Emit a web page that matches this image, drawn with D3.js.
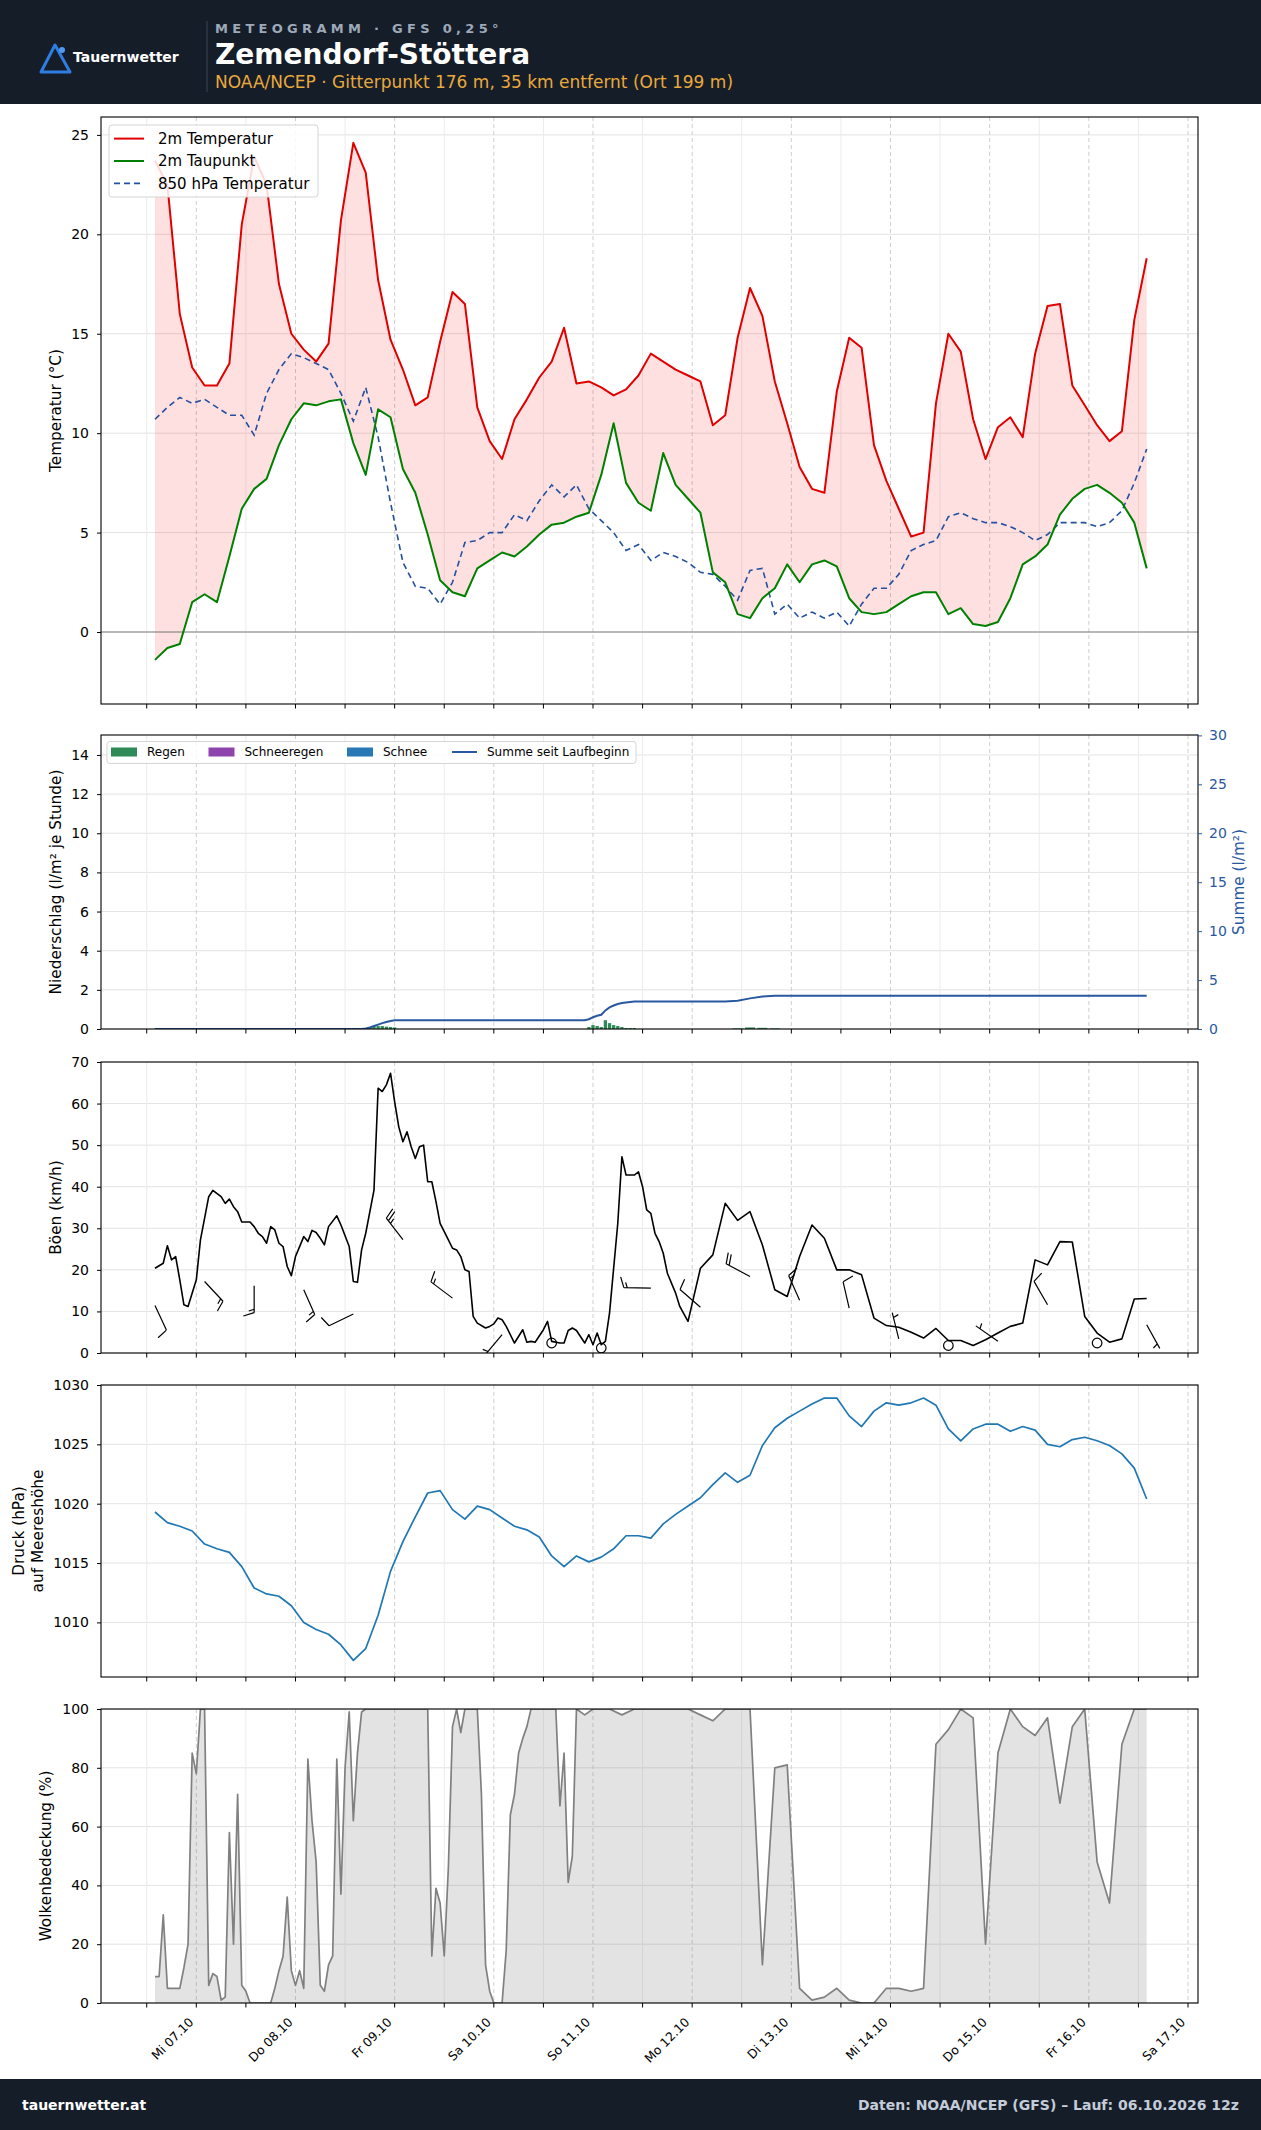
<!DOCTYPE html>
<html lang="de">
<head>
<meta charset="utf-8">
<title>Meteogramm Zemendorf-Stöttera</title>
<script src="https://cdn.jsdelivr.net/npm/d3@7/dist/d3.min.js"></script>
<style>
  body{margin:0;background:#fff;}
  svg{display:block;font-family:"DejaVu Sans",sans-serif;}
</style>
</head>
<body>
<svg id="chart" width="1261" height="2130"></svg>
<script>
// GFS Lauf 06.10.2026 12z, erster Schritt 14:00 Ortszeit
const runStart=Date.UTC(2026,9,6,14);
const stepHours=d3.range(0,241,3);

const dayLabels=["Mi 07.10","Do 08.10","Fr 09.10","Sa 10.10","So 11.10","Mo 12.10","Di 13.10","Mi 14.10","Do 15.10","Fr 16.10","Sa 17.10"];

const temp2m=[23.7,22.5,16.0,13.3,12.4,12.4,13.5,20.5,23.9,22.5,
  17.5,15.0,14.2,13.6,14.5,20.7,24.6,23.1,17.7,14.7,
  13.2,11.4,11.8,14.6,17.1,16.5,11.3,9.6,8.7,10.7,
  11.7,12.8,13.6,15.3,12.5,12.6,12.3,11.9,12.2,12.9,
  14.0,13.6,13.2,12.9,12.6,10.4,10.9,14.8,17.3,15.9,
  12.6,10.5,8.3,7.2,7.0,12.1,14.8,14.3,9.4,7.6,
  6.2,4.8,5.0,11.5,15.0,14.1,10.7,8.7,10.3,10.8,
  9.8,14.0,16.4,16.5,12.4,11.4,10.4,9.6,10.1,15.7,
  18.8];
const dew2m=[-1.4,-0.8,-0.6,1.5,1.9,1.5,3.8,6.2,7.2,7.7,
  9.4,10.7,11.5,11.4,11.6,11.7,9.5,7.9,11.2,10.8,
  8.2,7.0,4.9,2.6,2.0,1.8,3.2,3.6,4.0,3.8,
  4.3,4.9,5.4,5.5,5.8,6.0,7.9,10.5,7.5,6.5,
  6.1,9.0,7.4,6.7,6.0,3.0,2.5,0.9,0.7,1.7,
  2.2,3.4,2.5,3.4,3.6,3.3,1.7,1.0,0.9,1.0,
  1.4,1.8,2.0,2.0,0.9,1.2,0.4,0.3,0.5,1.7,
  3.4,3.8,4.4,5.9,6.7,7.2,7.4,7.0,6.5,5.5,
  3.2];
const temp850=[10.7,11.3,11.8,11.5,11.7,11.3,10.9,10.9,9.9,12.0,
  13.2,14.0,13.8,13.5,13.2,12.0,10.6,12.3,9.8,6.5,
  3.5,2.3,2.2,1.4,2.5,4.5,4.6,5.0,5.0,5.9,
  5.6,6.6,7.4,6.8,7.4,6.2,5.6,5.0,4.1,4.4,
  3.6,4.0,3.8,3.5,3.0,2.9,2.3,1.6,3.1,3.2,
  0.9,1.4,0.7,1.0,0.7,1.0,0.3,1.4,2.2,2.2,
  2.9,4.1,4.4,4.6,5.8,6.0,5.7,5.5,5.5,5.3,
  5.0,4.6,4.9,5.5,5.5,5.5,5.3,5.5,6.1,7.5,
  9.2];

// Niederschlag: Stunde nach Laufbeginn und Rate (l/m² je Stunde)
const rainHours=[51,52,53,54,55,56,57,58,105,106,107,108,109,110,111,112,113,114,115,116,141,144,147,150];
const rainRate=[0.05,0.1,0.15,0.15,0.15,0.12,0.1,0.08,0.1,0.2,0.15,0.1,0.45,0.3,0.2,0.15,0.1,0.05,0.05,0.05,0.03,0.08,0.06,0.03];

// Boeen: stuendlich bis ~129 h, danach 3-stuendlich
const gustHours=[0,2,3,4,5,6,7,8,10,11,13,14,16,17,18,19,20,21,23,24,
  25,26,27,28,29,30,31,32,33,34,35,36,37,38,39,40,41,42,44,45,
  47,48,49,50,51,53,54,55,56,57,58,59,60,61,62,63,64,65,66,67,
  68,69,71,72,73,74,75,76,77,78,80,81,82,83,84,85,87,89,90,91,
  92,94,95,96,98,99,100,101,102,104,105,106,107,108,109,110,112,113,114,116,
  117,118,119,120,121,122,123,124,126,127,129,132,135,138,141,144,147,150,153,156,
  159,162,165,168,171,174,177,180,183,186,189,192,195,198,201,204,207,210,213,216,
  219,222,225,228,231,234,237,240];
const gustVals=[20.4,21.6,25.8,22.4,23.2,17.6,11.6,11.2,17.6,27.2,37.6,39.1,37.6,36,37,35.2,34,31.5,31.5,30.4,
  28.8,28,26.4,30.4,29.6,26.4,25.6,20.8,18.6,23.2,25.6,28,26.8,29.5,29,27.6,26,30.4,33,30.8,
  25.6,17.2,17,24.8,28.8,39.2,63.7,62.9,64.5,67.3,60.4,54.4,50.8,53.2,49.6,46.8,49.6,50,41.2,41.2,
  36.4,31.2,27.2,25.2,24.8,23.2,20,19.6,8.8,7.2,6,6.4,7,8.4,8,6.4,2.4,5.6,2.6,2.8,
  2.6,5.6,7.6,2.8,2.4,2.4,5.4,6,5.4,2.4,4.4,2,4.8,2,2.8,9.6,31.2,47.2,42.8,42.8,
  43.6,40,34.4,33.6,28.8,26.8,24,19.2,14.4,11.2,7.6,20.4,23.6,36,31.9,34,26,15.2,13.6,23.2,
  30.8,27.6,20,20,18.8,8.4,6.6,6.2,5,3.6,5.9,3,3,1.8,3.2,4.8,6.4,7.2,22.4,21.2,
  26.8,26.7,8.8,4.8,2.6,3.4,13,13.1];

const windHours=[0,12,24,36,48,60,72,84,96,108,120,132,144,156,168,180,192,204,216,228,240];
const windSpeed=[11.4,17.2,16.2,15.2,9.4,27.3,13.2,4.4,2.4,1.2,15.6,11.0,18.4,12.7,10.8,3.4,1.8,2.8,11.6,2.4,6.8];
const windDir=[155,137,180,156,244,322,307,220,0,0,271,311,298,336,347,346,0,305,330,0,151];

const pressure=[1019.3,1018.4,1018.1,1017.7,1016.6,1016.2,1015.9,1014.7,1012.9,1012.4,
  1012.2,1011.4,1010.0,1009.4,1009.0,1008.1,1006.8,1007.8,1010.6,1014.3,
  1016.8,1018.9,1020.9,1021.1,1019.5,1018.7,1019.8,1019.5,1018.8,1018.1,
  1017.8,1017.2,1015.6,1014.7,1015.6,1015.1,1015.5,1016.2,1017.3,1017.3,
  1017.1,1018.3,1019.1,1019.8,1020.5,1021.6,1022.6,1021.8,1022.4,1024.9,
  1026.4,1027.2,1027.8,1028.4,1028.9,1028.9,1027.4,1026.5,1027.8,1028.5,
  1028.3,1028.5,1028.9,1028.3,1026.3,1025.3,1026.3,1026.7,1026.7,1026.1,
  1026.5,1026.2,1025.0,1024.8,1025.4,1025.6,1025.3,1024.9,1024.2,1023.0,
  1020.4];

// Bewoelkung: stuendlich bis 120 h, danach 3-stuendlich
const cloudHours=[0,1,2,3,6,7,8,9,10,11,12,13,14,15,16,17,18,19,20,21,
  22,23,28,29,30,31,32,33,34,35,36,37,38,39,40,41,42,43,44,45,
  46,47,48,49,50,51,66,67,68,69,70,71,72,73,74,75,78,79,80,81,
  82,84,85,86,87,88,89,90,91,97,98,99,100,101,102,104,106,110,113,116,
  120,123,126,129,132,135,138,141,144,147,150,153,156,159,162,165,168,171,174,177,
  180,183,186,189,192,195,198,201,204,207,210,213,216,219,222,225,228,231,234,237,240];
const cloudVals=[9,9,30,5,5,12,20,85,78,100,100,6,10,9,1,2,58,20,71,6,
  4,0,0,5,11,16,36,11,6,11,5,83,62,48,6,4,13,16,83,37,
  80,99,62,85,99,100,100,16,39,34,16,46,94,100,92,100,100,71,13,4,
  0,0,18,64,71,85,90,94,100,100,67,85,41,50,100,98,100,100,98,100,
  100,100,100,100,98,96,100,100,100,13,80,81,5,1,2,5,1,0,0,5,
  5,4,5,88,93,100,97,20,85,100,94,91,97,68,94,100,48,34,88,100,100];

const W=1261,H=2130,xL=101,xR=1198;
const svg=d3.select("#chart");
const hToDate=h=>new Date(runStart+h*36e5);
const times=stepHours.map(hToDate);

const x=d3.scaleUtc()
  .domain([new Date(Date.UTC(2026,9,6,0,56)),new Date(Date.UTC(2026,9,17,2,25))])
  .range([xL,xR]);
const gridTimes=d3.utcHour.every(12).range(x.domain()[0],x.domain()[1]);
const dayTimes=gridTimes.filter(d=>d.getUTCHours()===0);

svg.append("rect").attr("width",W).attr("height",H).attr("fill","#fff");

// ---- Kopf ----
svg.append("rect").attr("width",W).attr("height",104).attr("fill","#151d29");
svg.append("path").attr("d","M55,45L41,72L70,72Z")
  .attr("fill","none").attr("stroke","#2f7de1").attr("stroke-width",3).attr("stroke-linejoin","round");
svg.append("circle").attr("cx",62).attr("cy",50).attr("r",3).attr("fill","#4d9cf2");
svg.append("text").attr("x",73).attr("y",62).attr("fill","#fff")
  .attr("font-size",14).attr("font-weight","bold").text("Tauernwetter");
svg.append("line").attr("x1",207).attr("x2",207).attr("y1",21).attr("y2",92)
  .attr("stroke","#3b4555");
svg.append("text").attr("x",215).attr("y",33).attr("fill","#9da9b9")
  .attr("font-size",13).attr("font-weight","bold").attr("letter-spacing",4.3)
  .text("METEOGRAMM · GFS 0,25°");
svg.append("text").attr("x",215).attr("y",64).attr("fill","#fff")
  .attr("font-size",28).attr("font-weight","bold").text("Zemendorf-Stöttera");
svg.append("text").attr("x",215).attr("y",87.5).attr("fill","#e9a93c")
  .attr("font-size",17).text("NOAA/NCEP · Gitterpunkt 176 m, 35 km entfernt (Ort 199 m)");

// ---- Fuss ----
svg.append("rect").attr("y",2079).attr("width",W).attr("height",51).attr("fill","#151d29");
svg.append("text").attr("x",22).attr("y",2110).attr("fill","#fff")
  .attr("font-size",14).attr("font-weight","bold").text("tauernwetter.at");
svg.append("text").attr("x",1239).attr("y",2110).attr("fill","#c3ccd8").attr("text-anchor","end")
  .attr("font-size",14).attr("font-weight","bold").text("Daten: NOAA/NCEP (GFS) – Lauf: 06.10.2026 12z");

// ---- Panels ----
function makePanel(p){
  const y=d3.scaleLinear().domain(p.domain).range([p.bottom,p.top]);
  const g=svg.append("g");
  svg.append("clipPath").attr("id","clip"+p.id).append("rect")
    .attr("x",xL).attr("y",p.top).attr("width",xR-xL).attr("height",p.bottom-p.top);
  g.selectAll(".hg").data(p.ticks).join("line")
    .attr("x1",xL).attr("x2",xR).attr("y1",d=>y(d)).attr("y2",d=>y(d))
    .attr("stroke","#e3e3e3").attr("stroke-width",1);
  g.selectAll(".vg").data(gridTimes).join("line")
    .attr("x1",d=>x(d)).attr("x2",d=>x(d)).attr("y1",p.top).attr("y2",p.bottom)
    .attr("stroke",d=>d.getUTCHours()===0?"#cfcfcf":"#ececec")
    .attr("stroke-dasharray",d=>d.getUTCHours()===0?"4,3":null);
  const plot=g.append("g").attr("clip-path",`url(#clip${p.id})`);
  return {y,g,plot,p};
}
function finishPanel(pan,label){
  const {y,g,p}=pan;
  g.append("rect").attr("x",xL).attr("y",p.top).attr("width",xR-xL).attr("height",p.bottom-p.top)
    .attr("fill","none").attr("stroke","#000").attr("stroke-width",1.1);
  g.selectAll(".xt").data(gridTimes).join("line")
    .attr("x1",d=>x(d)).attr("x2",d=>x(d)).attr("y1",p.bottom).attr("y2",p.bottom+4.5)
    .attr("stroke","#000");
  const ax=g.append("g").attr("transform",`translate(${xL},0)`)
    .call(d3.axisLeft(y).tickValues(p.ticks).tickSize(4).tickPadding(8).tickFormat(d3.format("d")));
  ax.select(".domain").remove();
  ax.attr("font-size",14).attr("font-family","DejaVu Sans");
  ax.selectAll("text").attr("fill","#000");
  label.forEach(l=>{
    g.append("text").attr("transform",`translate(${l.x},${(p.top+p.bottom)/2}) rotate(-90)`)
      .attr("text-anchor","middle").attr("dy","0.35em").attr("font-size",15.3).attr("fill","#000")
      .text(l.t);
  });
}

// 1) Temperatur
const p1=makePanel({id:1,top:117,bottom:704,domain:[-3.62,25.9],ticks:[0,5,10,15,20,25]});
p1.plot.append("path").datum(stepHours.map((h,i)=>i))
  .attr("d",d3.area().x(i=>x(times[i])).y0(i=>p1.y(dew2m[i])).y1(i=>p1.y(temp2m[i])))
  .attr("fill","#ff0000").attr("fill-opacity",0.12);
p1.plot.append("line").attr("x1",xL).attr("x2",xR).attr("y1",p1.y(0)).attr("y2",p1.y(0))
  .attr("stroke","#808080").attr("stroke-width",1.2);
const line1=arr=>d3.line().x((d,i)=>x(times[i])).y(d=>p1.y(d))(arr);
p1.plot.append("path").attr("d",line1(temp850)).attr("fill","none")
  .attr("stroke","#24509e").attr("stroke-width",1.6).attr("stroke-dasharray","6,4");
p1.plot.append("path").attr("d",line1(dew2m)).attr("fill","none")
  .attr("stroke","#008000").attr("stroke-width",2).attr("stroke-linejoin","round");
p1.plot.append("path").attr("d",line1(temp2m)).attr("fill","none")
  .attr("stroke","#e00000").attr("stroke-width",2).attr("stroke-linejoin","round");
finishPanel(p1,[{x:56,t:"Temperatur (°C)"}]);
const lg1=svg.append("g");
lg1.append("rect").attr("x",109).attr("y",125).attr("width",209).attr("height",72).attr("rx",3)
  .attr("fill","#fff").attr("fill-opacity",0.85).attr("stroke","#d5d5d5");
[{t:"2m Temperatur",c:"#e00000",d:null,w:2},{t:"2m Taupunkt",c:"#008000",d:null,w:2},{t:"850 hPa Temperatur",c:"#24509e",d:"6,4",w:1.6}]
  .forEach((e,i)=>{
    const yy=138.6+i*22.4;
    lg1.append("line").attr("x1",114).attr("x2",144).attr("y1",yy).attr("y2",yy)
      .attr("stroke",e.c).attr("stroke-width",e.w).attr("stroke-dasharray",e.d);
    lg1.append("text").attr("x",158).attr("y",yy).attr("dy","0.36em").attr("font-size",15).text(e.t);
  });

// 2) Niederschlag
const p2=makePanel({id:2,top:735,bottom:1029,domain:[0,15.02],ticks:[0,2,4,6,8,10,12,14]});
const ySum=d3.scaleLinear().domain([0,30.04]).range([1029,735]);
const stepOf=h=>h<=120?1:3;
p2.plot.selectAll(".rain").data(rainHours).join("rect")
  .attr("x",h=>x(hToDate(h-stepOf(h)*0.4)))
  .attr("width",h=>x(hToDate(h+stepOf(h)*0.4))-x(hToDate(h-stepOf(h)*0.4)))
  .attr("y",(h,i)=>p2.y(rainRate[i])).attr("height",(h,i)=>p2.y(0)-p2.y(rainRate[i]))
  .attr("fill","#2e8b57");
const sumPts=[[0,0]];
let acc=0;
rainHours.forEach((h,i)=>{sumPts.push([h-stepOf(h),acc]);acc+=rainRate[i]*stepOf(h);sumPts.push([h,acc]);});
sumPts.push([240,acc]);
p2.plot.append("path").attr("d",d3.line().x(d=>x(hToDate(d[0]))).y(d=>ySum(d[1]))(sumPts))
  .attr("fill","none").attr("stroke","#2a58a0").attr("stroke-width",2);
finishPanel(p2,[{x:56,t:"Niederschlag (l/m² je Stunde)"}]);
const axR=p2.g.append("g").attr("transform",`translate(${xR},0)`)
  .call(d3.axisRight(ySum).tickValues([0,5,10,15,20,25,30]).tickSize(4).tickPadding(7).tickFormat(d3.format("d")));
axR.select(".domain").remove();
axR.attr("font-size",14).attr("font-family","DejaVu Sans");
axR.selectAll("line").attr("stroke","#2a58a0");
axR.selectAll("text").attr("fill","#2a58a0");
p2.g.append("text").attr("transform",`translate(1239,${(735+1029)/2}) rotate(-90)`)
  .attr("text-anchor","middle").attr("dy","0.35em").attr("font-size",15.3).attr("fill","#2a58a0")
  .text("Summe (l/m²)");
const lg2=svg.append("g");
lg2.append("rect").attr("x",107).attr("y",741.5).attr("width",529).attr("height",22).attr("rx",3)
  .attr("fill","#fff").attr("fill-opacity",0.85).attr("stroke","#d5d5d5");
[{t:"Regen",c:"#2e8b57",x:111},{t:"Schneeregen",c:"#8e44ad",x:208.5},{t:"Schnee",c:"#2878b5",x:347}]
  .forEach(e=>{
    lg2.append("rect").attr("x",e.x).attr("y",747.5).attr("width",26).attr("height",9).attr("fill",e.c);
    lg2.append("text").attr("x",e.x+36).attr("y",752).attr("dy","0.36em").attr("font-size",12).text(e.t);
  });
lg2.append("line").attr("x1",452).attr("x2",477).attr("y1",752).attr("y2",752)
  .attr("stroke","#2a58a0").attr("stroke-width",2);
lg2.append("text").attr("x",487).attr("y",752).attr("dy","0.36em").attr("font-size",12).text("Summe seit Laufbeginn");

// 3) Boeen + Wind
const p3=makePanel({id:3,top:1062,bottom:1353,domain:[0,70],ticks:[0,10,20,30,40,50,60,70]});
p3.plot.append("path").attr("d",d3.line().x((d,i)=>x(hToDate(gustHours[i]))).y(d=>p3.y(d))(gustVals))
  .attr("fill","none").attr("stroke","#000").attr("stroke-width",1.6).attr("stroke-linejoin","round");
function barbPath(cx,cy,spd,dir){
  const L=27,th=dir*Math.PI/180;
  const sx=Math.sin(th),sy=-Math.cos(th),bx=Math.cos(th),by=Math.sin(th);
  const P=(lx,ly)=>[cx+lx*bx+ly*sx,cy+lx*by+ly*sy];
  const mag=5*Math.round(spd/5);
  const nFull=Math.floor(mag/10),half=mag-nFull*10>=5;
  const segs=[[P(0,0),P(0,L)]];
  let off=L;
  for(let i=0;i<nFull;i++){segs.push([P(0,off),P(0.4*L,off+0.125*L)]);off-=0.125*L;}
  if(half){if(off===L)off-=1.5*0.125*L;segs.push([P(0,off),P(0.2*L,off+0.0625*L)]);}
  return segs.map(s=>`M${s[0]}L${s[1]}`).join("");
}
windHours.forEach((h,i)=>{
  const cx=x(hToDate(h)),cy=p3.y(windSpeed[i]);
  if(5*Math.round(windSpeed[i]/5)===0){
    p3.plot.append("circle").attr("cx",cx).attr("cy",cy).attr("r",4.8)
      .attr("fill","none").attr("stroke","#000").attr("stroke-width",1.2);
  }else{
    p3.plot.append("path").attr("d",barbPath(cx,cy,windSpeed[i],windDir[i]))
      .attr("fill","none").attr("stroke","#000").attr("stroke-width",1.2);
  }
});
finishPanel(p3,[{x:56,t:"Böen (km/h)"}]);

// 4) Luftdruck
const p4=makePanel({id:4,top:1385,bottom:1677,domain:[1005.4,1030],ticks:[1010,1015,1020,1025,1030]});
p4.plot.append("path").attr("d",d3.line().x((d,i)=>x(times[i])).y(d=>p4.y(d))(pressure))
  .attr("fill","none").attr("stroke","#1f77b4").attr("stroke-width",1.7).attr("stroke-linejoin","round");
finishPanel(p4,[{x:19,t:"Druck (hPa)"},{x:38,t:"auf Meereshöhe"}]);

// 5) Bewoelkung
const p5=makePanel({id:5,top:1709,bottom:2003,domain:[0,100],ticks:[0,20,40,60,80,100]});
p5.plot.append("path").datum(cloudVals)
  .attr("d",d3.area().x((d,i)=>x(hToDate(cloudHours[i]))).y0(p5.y(0)).y1(d=>p5.y(d)))
  .attr("fill","#808080").attr("fill-opacity",0.22);
p5.plot.append("path").attr("d",d3.line().x((d,i)=>x(hToDate(cloudHours[i]))).y(d=>p5.y(d))(cloudVals))
  .attr("fill","none").attr("stroke","#808080").attr("stroke-width",1.7).attr("stroke-linejoin","round");
finishPanel(p5,[{x:46,t:"Wolkenbedeckung (%)"}]);

svg.append("g").selectAll("text").data(dayTimes).join("text")
  .attr("transform",d=>`translate(${x(d)-2},2023) rotate(-45)`)
  .attr("text-anchor","end").attr("font-size",12.3).attr("fill","#000")
  .text((d,i)=>dayLabels[i]);
</script>
</body>
</html>
